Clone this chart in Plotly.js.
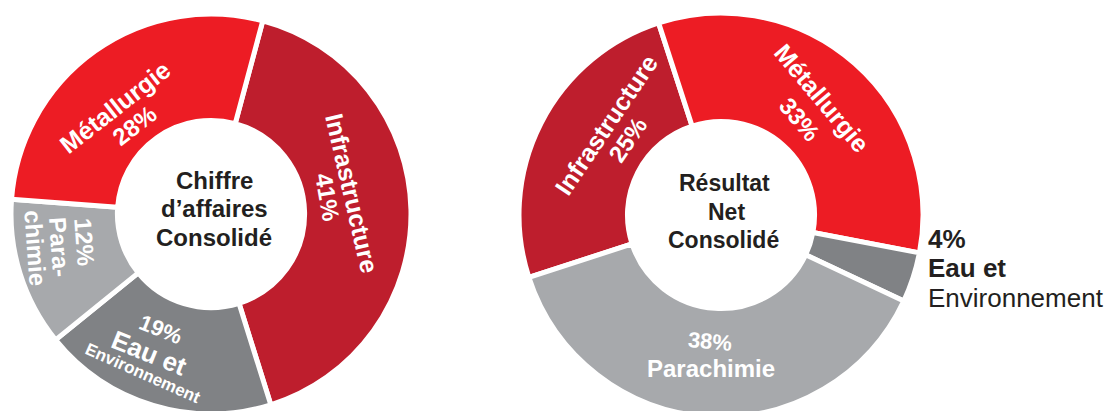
<!DOCTYPE html>
<html><head><meta charset="utf-8">
<script src="https://cdn.plot.ly/plotly-3.0.1.min.js"></script>
<style>html,body{margin:0;padding:0;overflow:hidden;background:#fff}#chart{width:1109px;height:425px}</style>
</head><body><div id="chart"></div>
<script>
// ---- data ----
const caLabels = ['Infrastructure', 'Eau et Environnement', 'Parachimie', 'Métallurgie'];
const caValues = [41, 19, 12, 28];
const caTitle = ['Chiffre', 'd’affaires', 'Consolidé'];

const rnLabels = ['Infrastructure', 'Métallurgie', 'Eau et Environnement', 'Parachimie'];
const rnValues = [25, 33, 4, 38];
const rnTitle = ['Résultat', 'Net', 'Consolidé'];

// ---- styles ----
const COL = {
  'Infrastructure': '#BE1E2D',
  'Métallurgie': '#ED1C24',
  'Parachimie': '#A7A9AC',
  'Eau et Environnement': '#808285'
};
const W = 1109, H = 425;
const FONT = 'Liberation Sans, Arial, sans-serif';
const px = x => x / W, py = y => 1 - y / H;

function ann(text, x, y, size, angle, color, extra) {
  return Object.assign({
    text: text, x: px(x), y: py(y), xref: 'paper', yref: 'paper',
    showarrow: false, xanchor: 'center', yanchor: 'middle',
    textangle: angle, borderpad: 0,
    font: { family: FONT, size: size, color: color || '#FFFFFF' }
  }, extra || {});
}
const pct = v => v + '%';
const b = s => '<b>' + s + '</b>';

const ca = i => caLabels[i], cv = i => caValues[i];
const rl = i => rnLabels[i], rv = i => rnValues[i];

const traces = [
  {
    type: 'pie', labels: caLabels, values: caValues, sort: false,
    direction: 'clockwise', rotation: 15, hole: 0.468,
    marker: { colors: caLabels.map(l => COL[l]), line: { color: '#FFFFFF', width: 5 } },
    textinfo: 'none', hoverinfo: 'label+percent',
    domain: { x: [px(211 - 200), px(211 + 200)], y: [py(214 + 200), py(214 - 200)] }
  },
  {
    type: 'pie', labels: rnLabels, values: rnValues, sort: false,
    direction: 'clockwise', rotation: 252, hole: 0.463,
    marker: { colors: rnLabels.map(l => COL[l]), line: { color: '#FFFFFF', width: 5 } },
    textinfo: 'none', hoverinfo: 'label+percent',
    domain: { x: [px(721 - 202), px(721 + 202)], y: [py(215 + 202), py(215 - 202)] }
  }
];

const dark = '#231F20';
const annotations = [
  // left centre
  ann(b(caTitle[0]), 214, 180, 24, 0, dark),
  ann(b(caTitle[1]), 214, 208, 24, 0, dark),
  ann(b(caTitle[2]), 214, 237, 24, 0, dark),
  // left slices
  ann(b(ca(3)), 115, 107, 25, -38),
  ann(b(pct(cv(3))), 134, 125, 24, -38),
  ann(b(ca(0)), 352, 193, 25, 77),
  ann(b(pct(cv(0))), 328, 197, 24, 80),
  ann(b(pct(cv(2))), 85, 242, 24, 86),
  ann(b(ca(2).slice(0, 4) + '-'), 60, 247, 24, 86),
  ann(b(ca(2).slice(4)), 36, 248, 24, 86),
  ann(b(pct(cv(1))), 161, 329, 22, 22),
  ann(b(ca(1).split(' ').slice(0, 2).join(' ')), 149, 353, 26, 22),
  ann(b(ca(1).split(' ')[2]), 143, 373, 17, 24),
  // right centre
  ann(b(rnTitle[0]), 724, 183, 23, 0, dark),
  ann(b(rnTitle[1]), 726, 212, 23, 0, dark),
  ann(b(rnTitle[2]), 723, 240, 23, 0, dark),
  // right slices
  ann(b(rl(0)), 606, 125, 25, -56),
  ann(b(pct(rv(0))), 628, 140, 24, -56),
  ann(b(rl(1)), 822, 98, 25, 50),
  ann(b(pct(rv(1))), 800, 119, 24, 50),
  ann(b(pct(rv(3))), 710, 341, 22, 5),
  ann(b(rl(3)), 711, 368, 24, 0),
  // outside label for the small slice
  ann(b(pct(rv(2))), 927, 239, 26, 0, dark, { xanchor: 'left' }),
  ann(b(rl(2).split(' ').slice(0, 2).join(' ')), 927, 268, 26, 0, dark, { xanchor: 'left' }),
  ann(rl(2).split(' ')[2], 927, 298, 26, 0, dark, { xanchor: 'left' })
];

const layout = {
  width: W, height: H,
  margin: { l: 0, r: 0, t: 0, b: 0 },
  paper_bgcolor: '#FFFFFF', plot_bgcolor: '#FFFFFF',
  showlegend: false,
  annotations: annotations
};

Plotly.newPlot('chart', traces, layout, { staticPlot: true, displayModeBar: false });
</script>
</body></html>
